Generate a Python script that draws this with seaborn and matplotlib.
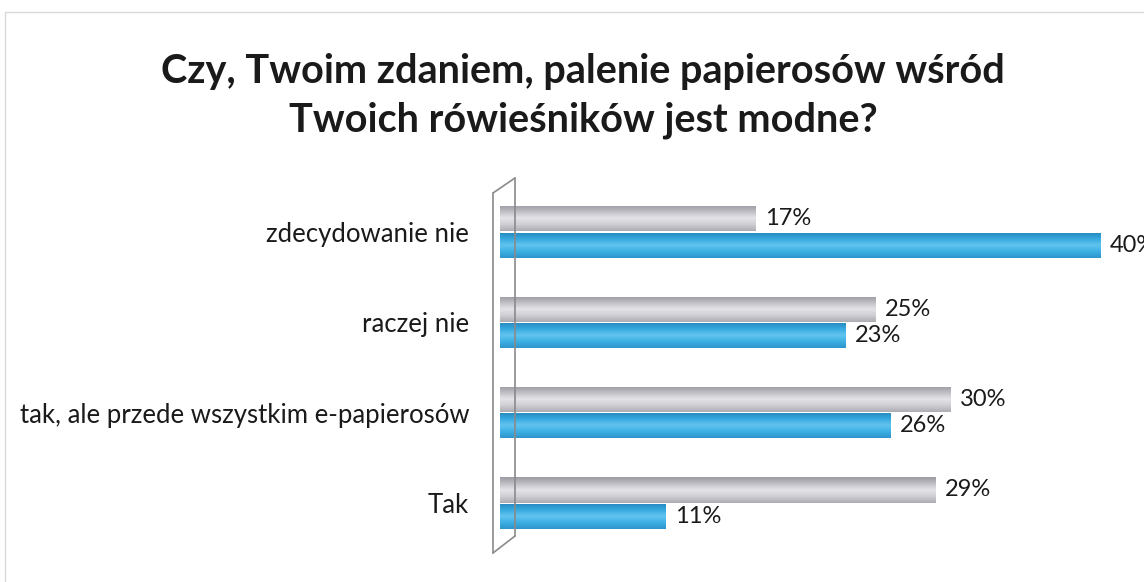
import matplotlib
matplotlib.use("Agg")
import matplotlib.pyplot as plt
import numpy as np
import pandas as pd
import seaborn as sns
from matplotlib.colors import LinearSegmentedColormap
from matplotlib.lines import Line2D

# data
categories = ["zdecydowanie nie", "raczej nie",
              "tak, ale przede wszystkim e-papierosów", "Tak"]
series_names = ["seria 1", "seria 2"]
grey_values = [17, 25, 30, 29]
blue_values = [40, 23, 26, 11]
title = "Czy, Twoim zdaniem, palenie papierosów wśród\nTwoich rówieśników jest modne?"

df = pd.DataFrame({
    "kategoria": categories * 2,
    "seria": [series_names[0]] * 4 + [series_names[1]] * 4,
    "procent": grey_values + blue_values,
})

sns.set_style("white")
plt.rcParams["font.family"] = ["Lato", "DejaVu Sans"]

fig = plt.figure(figsize=(11.44, 5.82), dpi=100)
ax = fig.add_axes([0.437, 0.058, 0.563, 0.621])

palette = {series_names[0]: "#c2c1c6", series_names[1]: "#3aaee2"}
sns.barplot(
    data=df, y="kategoria", x="procent", hue="seria",
    order=categories, hue_order=series_names, palette=palette,
    orient="h", width=0.58, gap=0.04, legend=False, ax=ax,
)

ax.set_xlabel("")
ax.set_ylabel("")
ax.set_xticks([])
ax.tick_params(axis="y", length=0, pad=22, labelsize=18.5, labelcolor="#1a1a1a")
for s in ax.spines.values():
    s.set_visible(False)

# cylinder-like shading on each bar
cmaps = {
    series_names[0]: LinearSegmentedColormap.from_list(
        "g", ["#9c9ba3", "#c0bfc5", "#e4e4e8", "#cfced3", "#aeadb4"]),
    series_names[1]: LinearSegmentedColormap.from_list(
        "b", ["#2688bd", "#36a8de", "#62c4ef", "#3db0e4", "#2e95cb"]),
}
grad = np.linspace(0, 1, 64).reshape(-1, 1)
for container, name in zip(ax.containers, series_names):
    for bar in container:
        bar.set_edgecolor("none")
        x0, y0 = bar.get_x(), bar.get_y()
        w, h = bar.get_width(), bar.get_height()
        im = ax.imshow(grad, cmap=cmaps[name], aspect="auto",
                       extent=(x0, x0 + w, y0 + h, y0), zorder=bar.get_zorder() + 0.1)
        im.set_clip_path(bar)
    ax.bar_label(container, fmt="%d%%", padding=7, fontsize=17, color="#1a1a1a")

ax.set_xlim(0, 42.9)
ax.set_ylim(3.5, -0.5)

# 3D wall at the left of the bars
def fx(px):
    return px / 1144

def fy(py):
    return 1 - py / 582

wall = [
    ((493, 193), (493, 553)),
    ((515, 178), (515, 536)),
    ((493, 193), (515, 178)),
    ((493, 553), (515, 536)),
]
for (xa, ya), (xb, yb) in wall:
    fig.add_artist(Line2D([fx(xa), fx(xb)], [fy(ya), fy(yb)],
                          transform=fig.transFigure, color="#8a8a8a", lw=1.2))

# faint frame of the scanned chart
fig.add_artist(Line2D([fx(5), fx(1144)], [fy(12), fy(12)],
                      transform=fig.transFigure, color="#d8d8d8", lw=1))
fig.add_artist(Line2D([fx(5), fx(5)], [fy(12), fy(582)],
                      transform=fig.transFigure, color="#d8d8d8", lw=1))

fig.text(fx(583), fy(96), title, ha="center", va="center", fontsize=28.5,
         fontweight="bold", linespacing=1.4, color="#1a1a1a")

fig.savefig("out.png", dpi=100)
